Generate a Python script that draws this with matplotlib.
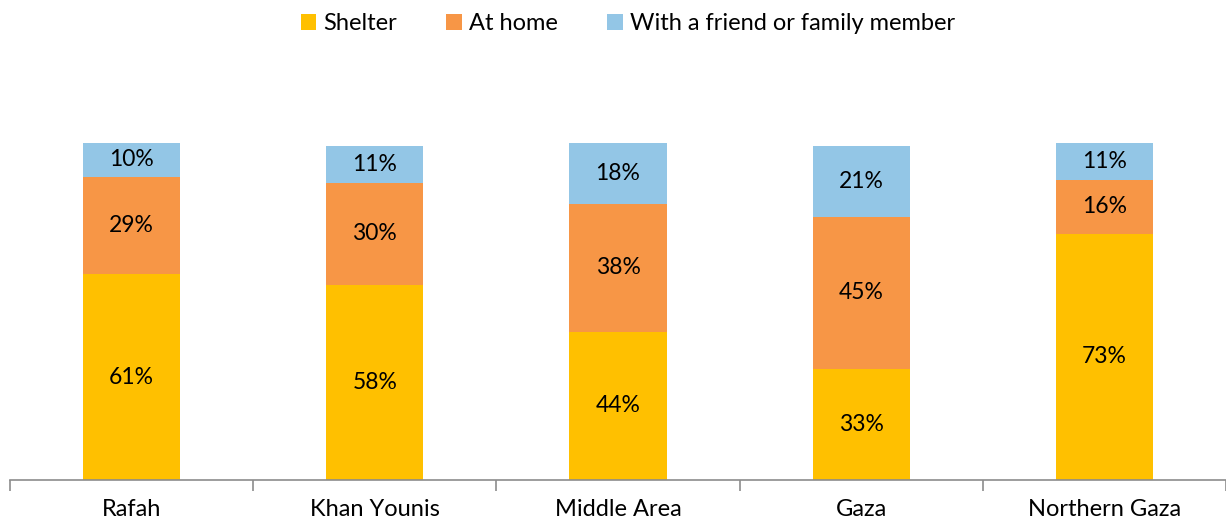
import matplotlib.pyplot as plt
import numpy as np

plt.rcParams['font.family'] = ['Lato', 'DejaVu Sans']

categories = ["Rafah", "Khan Younis", "Middle Area", "Gaza", "Northern Gaza"]
shelter = [61, 58, 44, 33, 73]
at_home = [29, 30, 38, 45, 16]
friend = [10, 11, 18, 21, 11]

series = [
    ("Shelter", shelter, "#FFC000"),
    ("At home", at_home, "#F79646"),
    ("With a friend or family member", friend, "#93C6E6"),
]

fig = plt.figure(figsize=(12.26, 5.26), dpi=100)
ax = fig.add_axes([0.0082, 0.0875, 0.9918, 0.6407])

x = np.arange(len(categories))
bottom = np.zeros(len(categories))
for name, vals, color in series:
    vals = np.array(vals, dtype=float)
    bars = ax.bar(x, vals, 0.4, bottom=bottom, color=color, label=name, zorder=2)
    for xi, b, v in zip(x, bottom, vals):
        ax.text(xi, b + v / 2, f"{int(v)}%", ha="center", va="center", fontsize=16.5, color="black")
    bottom += vals

ax.set_xlim(-0.5, len(categories) - 0.5)
ax.set_ylim(0, 100)
for side in ["top", "right", "left"]:
    ax.spines[side].set_visible(False)
ax.spines["bottom"].set_color("#8c8c8c")
ax.spines["bottom"].set_linewidth(1.2)
ax.set_yticks([])
ax.set_xticks(x)
ax.set_xticklabels(categories, fontsize=17)
ax.tick_params(axis="x", which="major", length=0, pad=14)
ax.set_xticks(np.arange(-0.5, len(categories)), minor=True)
ax.tick_params(axis="x", which="minor", length=8, width=1.2, color="#8c8c8c")

fig.legend(loc="center", bbox_to_anchor=(0.512, 0.955), ncol=3, frameon=False,
           fontsize=17, handlelength=0.65, handleheight=0.65, handletextpad=0.3,
           columnspacing=2.1)

fig.savefig("out.png", dpi=100)
